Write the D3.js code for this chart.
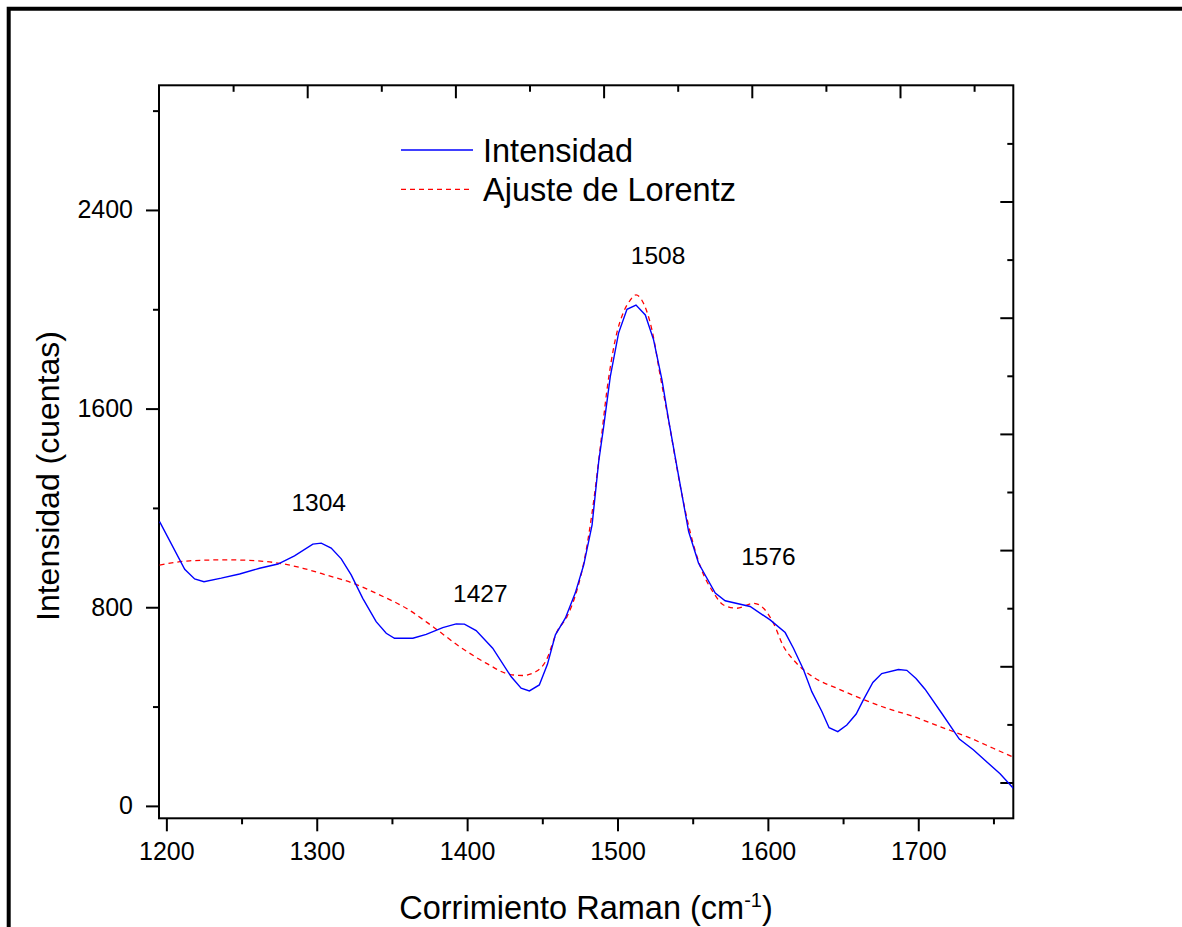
<!DOCTYPE html>
<html>
<head>
<meta charset="utf-8">
<script src="https://cdn.jsdelivr.net/npm/d3@7"></script>
<style>
  body { margin: 0; background: #fff; }
  svg { display: block; font-family: Arial, "Liberation Sans", sans-serif; }
  .axis path { display: none; }
  .axis line { stroke: #000; stroke-width: 2; }
  .axis text { font-size: 25px; fill: #000; font-family: Arial, "Liberation Sans", sans-serif; }
</style>
</head>
<body>
<div id="chart"></div>
<script>
/*
 *  DATA
 */
// measured spectrum
var ramanX = [1195.5, 1212.2, 1218.8, 1225, 1236.5, 1248.7, 1262, 1274.2, 1285.2, 1297.4,
    1303, 1309.6, 1316.3, 1322.9, 1330.6, 1339.5, 1346.2, 1351.7, 1363.9, 1372.8,
    1383.8, 1392.7, 1398.2, 1406, 1417, 1429.2, 1435.9, 1441.4, 1448, 1453.4,
    1458.7, 1465.3, 1471.9, 1477.5, 1483.1, 1487.5, 1490.8, 1495.2, 1500.7, 1506.3,
    1512.3, 1518.5, 1524, 1529.6, 1534, 1539.5, 1547.3, 1553.9, 1565, 1571.6,
    1588.2, 1601.5, 1611.5, 1617, 1623.7, 1629.2, 1635.9, 1640.7, 1646.5, 1652.5,
    1658.7, 1663.5, 1669.8, 1675.7, 1686.8, 1692.4, 1698.5, 1704.5, 1715.6, 1727.3,
    1736.6, 1754.4, 1763.2];
var intensity = [1145, 953, 914, 903, 917, 934, 957, 974, 1007, 1054,
    1058, 1038, 995, 930, 836, 742, 695, 675, 675, 691,
    718, 733, 732, 706, 635, 521, 474, 463, 487, 570,
    689, 756, 857, 970, 1132, 1387, 1527, 1729, 1904, 2000,
    2017, 1977, 1877, 1715, 1554, 1366, 1105, 977, 857, 826,
    803, 749, 698, 635, 548, 460, 380, 315, 299, 326,
    370, 427, 497, 533, 549, 546, 513, 470, 373, 269,
    226, 129, 71];

// Lorentz fit
var fitX = [1195.5, 1215.5, 1239.9, 1259.8, 1275.3, 1290.8, 1306.3, 1324, 1341.7, 1359.5,
    1377.2, 1394.9, 1412.6, 1428.1, 1436.9, 1445.8, 1452.5, 1459.8, 1466.4, 1473.1,
    1478.6, 1484.1, 1488.6, 1493, 1498.5, 1504.1, 1508.5, 1512.3, 1517.3, 1522.9,
    1528.5, 1535.1, 1541.8, 1548.5, 1555.1, 1564, 1570.5, 1579.4, 1590.5, 1597.1,
    1603.7, 1610.4, 1617, 1623.7, 1631.4, 1645.8, 1661.3, 1679.1, 1696.7, 1714.5,
    1732.2, 1749.9, 1763.2];
var fitY = [970, 987, 991, 987, 977, 957, 930, 897, 850, 796,
    722, 642, 575, 530, 525, 541, 585, 702, 762, 870,
    1011, 1225, 1447, 1675, 1877, 1990, 2037, 2058, 2024, 1917,
    1729, 1514, 1286, 1098, 964, 857, 809, 796, 816, 796,
    736, 642, 588, 548, 514, 474, 434, 393, 360, 319,
    279, 232, 196];

var xTicks = [1200, 1300, 1400, 1500, 1600, 1700];
var xMinor = [1250, 1350, 1450, 1550, 1650, 1750];
var yTicks = [0, 800, 1600, 2400];
var yMinor = [400, 1200, 2000, 2800];

// peak annotations
var peakLabels = ["1304", "1427", "1508", "1576"];
var peakX = [1301.3, 1408.8, 1527, 1600.4];
var peakY = [1189, 823, 2183, 970];

var seriesNames = ["Intensidad", "Ajuste de Lorentz"];

/*
 *  LAYOUT
 */
var view_width = 1182;
var view_height = 927;
var margin = {top: 85.3, bottom: 108.7, left: 159, right: 168.7};
var width = view_width - margin.left - margin.right;
var height = view_height - margin.top - margin.bottom;

var x_scale = d3.scaleLinear()
    .domain([1195.1, 1763.2])
    .range([0, width]);
var y_scale = d3.scaleLinear()
    .domain([-50, 2902])
    .range([height, 0]);

// top and right axes of the linked layer (ticks only)
var top_scale = d3.scaleLinear()
    .domain([0, width / 148.2])
    .range([0, width]);
var right_scale = d3.scaleLinear()
    .domain([6 - height / 116.2, 6])
    .range([height, 0]);

var svg = d3.select("#chart")
    .append("svg")
        .attr("width", view_width)
        .attr("height", view_height);

// outer frame (top and left edges)
svg.append("path")
    .attr("d", "M8.7,927 L8.7,8.7 L1182,8.7")
    .attr("fill", "none")
    .attr("stroke", "#000")
    .attr("stroke-width", 4);

var g = svg.append("g")
    .attr("transform", "translate(" + margin.left + "," + margin.top + ")");

g.append("clipPath")
    .attr("id", "clip")
  .append("rect")
    .attr("width", width)
    .attr("height", height);

/*
 *  AXES
 */
g.append("g")
    .attr("class", "axis")
    .attr("transform", "translate(0," + height + ")")
    .call(d3.axisBottom(x_scale).tickValues(xTicks).tickSize(13).tickPadding(11).tickFormat(d3.format("d")));
g.append("g")
    .attr("class", "axis")
    .attr("transform", "translate(0," + height + ")")
    .call(d3.axisBottom(x_scale).tickValues(xMinor).tickSize(6).tickFormat(""));

g.append("g")
    .attr("class", "axis")
    .call(d3.axisLeft(y_scale).tickValues(yTicks).tickSize(13).tickPadding(13).tickFormat(d3.format("d")));
g.append("g")
    .attr("class", "axis")
    .call(d3.axisLeft(y_scale).tickValues(yMinor).tickSize(6).tickFormat(""));

g.append("g")
    .attr("class", "axis")
    .call(d3.axisBottom(top_scale).tickValues(d3.range(1, 6)).tickSize(13).tickFormat(""));
g.append("g")
    .attr("class", "axis")
    .call(d3.axisBottom(top_scale).tickValues(d3.range(0.5, 6, 1)).tickSize(6.5).tickFormat(""));

g.append("g")
    .attr("class", "axis")
    .attr("transform", "translate(" + width + ",0)")
    .call(d3.axisLeft(right_scale).tickValues(d3.range(0, 6)).tickSize(13).tickFormat(""));
g.append("g")
    .attr("class", "axis")
    .attr("transform", "translate(" + width + ",0)")
    .call(d3.axisLeft(right_scale).tickValues(d3.range(0.5, 6, 1)).tickSize(6).tickFormat(""));

g.append("rect")
    .attr("width", width)
    .attr("height", height)
    .attr("fill", "none")
    .attr("stroke", "#000")
    .attr("stroke-width", 2);

/*
 *  CURVES
 */
var spectrum = ramanX.map(function(d, i) { return [d, intensity[i]]; });
var fit = fitX.map(function(d, i) { return [d, fitY[i]]; });

var line = d3.line()
    .x(function(d) { return x_scale(d[0]); })
    .y(function(d) { return y_scale(d[1]); });

g.append("path")
    .datum(fit)
    .attr("clip-path", "url(#clip)")
    .attr("fill", "none")
    .attr("stroke", "#ff0000")
    .attr("stroke-width", 1.3)
    .attr("stroke-dasharray", "5,4")
    .attr("d", line.curve(d3.curveMonotoneX));

g.append("path")
    .datum(spectrum)
    .attr("clip-path", "url(#clip)")
    .attr("fill", "none")
    .attr("stroke", "#0000ff")
    .attr("stroke-width", 1.4)
    .attr("d", line.curve(d3.curveLinear));

// peak labels
g.selectAll(".peak")
    .data(peakLabels)
    .enter()
    .append("text")
    .attr("class", "peak")
    .attr("x", function(d, i) { return x_scale(peakX[i]); })
    .attr("y", function(d, i) { return y_scale(peakY[i]); })
    .attr("text-anchor", "middle")
    .attr("font-size", "24.5px")
    .text(function(d) { return d; });

/*
 *  LEGEND
 */
var legend = svg.append("g")
    .attr("transform", "translate(401,150)");
legend.append("line")
    .attr("x1", 0).attr("x2", 72)
    .attr("y1", 0).attr("y2", 0)
    .attr("stroke", "#0000ff")
    .attr("stroke-width", 1.4);
legend.append("line")
    .attr("x1", 0).attr("x2", 72)
    .attr("y1", 39.3).attr("y2", 39.3)
    .attr("stroke", "#ff0000")
    .attr("stroke-width", 1.3)
    .attr("stroke-dasharray", "5,4");
legend.selectAll(".legtext")
    .data(seriesNames)
    .enter()
    .append("text")
    .attr("x", 82)
    .attr("y", function(d, i) { return 11.5 + i * 39.3; })
    .attr("font-size", "32.5px")
    .text(function(d) { return d; });

/*
 *  AXIS TITLES
 */
svg.append("text")
    .attr("transform", "translate(59,476)rotate(-90)")
    .attr("text-anchor", "middle")
    .attr("font-size", "32px")
    .text("Intensidad (cuentas)");

var xt = svg.append("text")
    .attr("x", 586)
    .attr("y", 919)
    .attr("text-anchor", "middle")
    .attr("font-size", "32.5px");
xt.append("tspan").text("Corrimiento Raman (cm");
xt.append("tspan").attr("dy", -12).attr("font-size", "20px").text("-1");
xt.append("tspan").attr("dy", 12).text(")");
</script>
</body>
</html>
